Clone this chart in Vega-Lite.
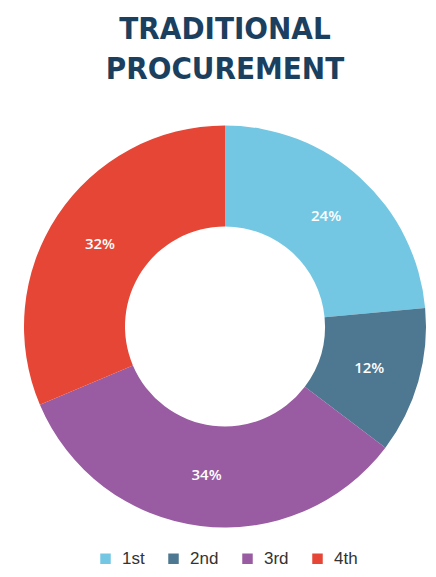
{
  "$schema": "https://vega.github.io/schema/vega-lite/v6.json",
  "width": 420,
  "height": 453,
  "autosize": {"type": "none"},
  "padding": {"top": 100, "left": 15, "right": 1, "bottom": 24},
  "background": "white",
  "title": {
    "text": ["TRADITIONAL", "PROCUREMENT"],
    "font": "DejaVu Sans Condensed, Roboto",
    "fontSize": 31,
    "fontWeight": "bold",
    "color": "#1b3f5e",
    "anchor": "middle",
    "lineHeight": 40,
    "offset": 14
  },
  "data": {
    "values": [
      {"quarter": "1st", "value": 24, "label": "24%"},
      {"quarter": "2nd", "value": 12, "label": "12%"},
      {"quarter": "3rd", "value": 34, "label": "34%"},
      {"quarter": "4th", "value": 32, "label": "32%"}
    ]
  },
  "encoding": {
    "theta": {"field": "value", "type": "quantitative", "stack": true},
    "order": {"field": "quarter", "type": "ordinal"}
  },
  "layer": [
    {
      "mark": {"type": "arc", "innerRadius": 100, "outerRadius": 201},
      "encoding": {
        "color": {
          "field": "quarter",
          "type": "nominal",
          "scale": {"domain": ["1st", "2nd", "3rd", "4th"], "range": ["#74c7e3", "#4e7891", "#995ba1", "#e54635"]},
          "legend": {
            "title": null,
            "orient": "none",
            "direction": "horizontal",
            "legendX": 82,
            "legendY": 450,
            "symbolType": "square",
            "symbolSize": 110,
            "symbolStrokeWidth": 0,
            "labelFontSize": 17,
            "labelFont": "Liberation Sans",
            "labelColor": "#333333",
            "labelOffset": 8,
            "columnPadding": 20
          }
        }
      }
    },
    {
      "mark": {"type": "text", "radius": 150, "fontSize": 15, "fontWeight": 600, "font": "Open Sans"},
      "encoding": {
        "text": {"field": "label"},
        "color": {"value": "white"}
      }
    }
  ],
  "config": {"view": {"stroke": null}}
}
